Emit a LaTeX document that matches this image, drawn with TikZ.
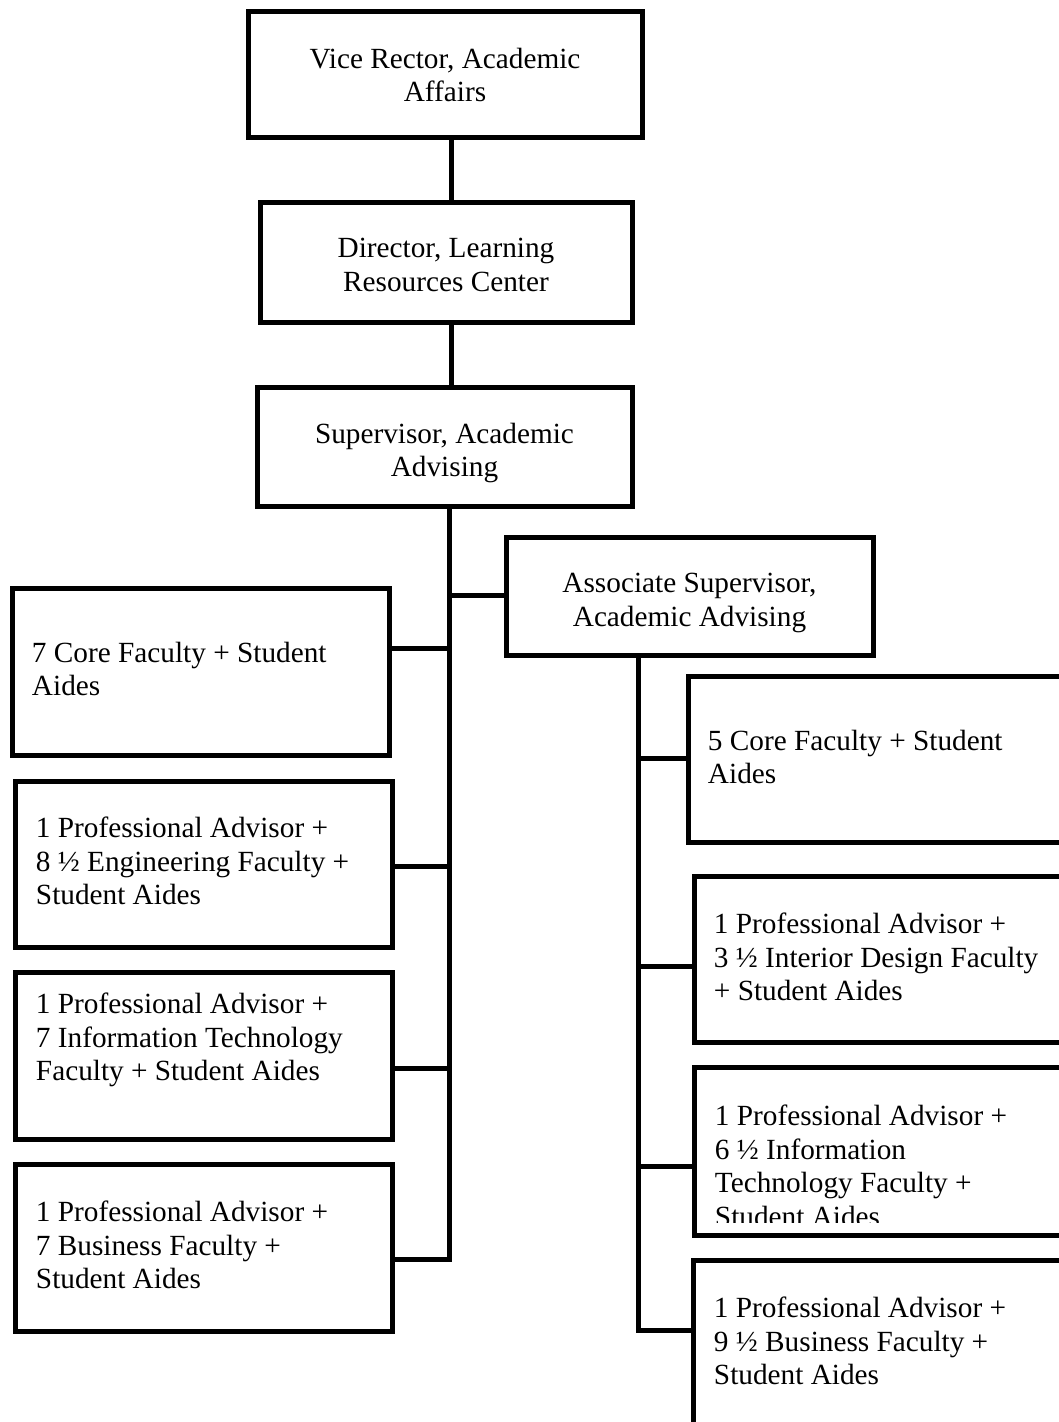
\documentclass[tikz,border=0pt]{standalone}
\usepackage{fontspec}
\setmainfont{Liberation Serif}
\usetikzlibrary{fit,calc}
\tikzset{
  unitbox/.style={draw, line width=2.05pt, inner sep=0pt},
  headtext/.style={anchor=north, inner sep=0pt, align=center},
  unittext/.style={anchor=north west, inner sep=0pt, align=left},
  link/.style={line width=2.05pt, line cap=rect}
}

\begin{document}
\begin{tikzpicture}[x=0.41pt, y=-0.41pt, font=\fontsize{12}{13.8}\selectfont]
  \useasboundingbox (0,0) rectangle (1059,1422);
  \clip (0,0) rectangle (1059,1422);

  % chain at the top
  \node[unitbox, fit={(248,11) (642,137)}] (vr) {};
  \node[unitbox, fit={(260,202) (632,322)}] (dir) {};
  \node[unitbox, fit={(257,387) (632,506)}] (sup) {};
  \node[unitbox, fit={(506,537) (873,655)}] (asup) {};
  \node[headtext] (vrtxt) at ([yshift={-39*0.41pt}]vr.north) {Vice Rector, Academic\\Affairs};
  \node[headtext] (dirtxt) at ([yshift={-38*0.41pt}]dir.north) {Director, Learning\\Resources Center};
  \node[headtext] (suptxt) at ([yshift={-38*0.41pt}]sup.north) {Supervisor, Academic\\Advising};
  \node[headtext] (asuptxt) at ([yshift={-38*0.41pt}]asup.north) {Associate Supervisor,\\Academic Advising};

  % units under the supervisor
  \node[unitbox, fit={(12,588) (389,755)}] (core7) {};
  \node[unitbox, fit={(15,781) (392,947)}] (eng) {};
  \node[unitbox, fit={(15,972) (392,1139)}] (it7) {};
  \node[unitbox, fit={(15,1164) (392,1331)}] (biz7) {};
  \node[unittext] (core7txt) at ([shift={(22,56)}]core7.north west) {7 Core Faculty + Student\\Aides};
  \node[unittext] (engtxt) at ([shift={(23,38)}]eng.north west) {1 Professional Advisor +\\8 ½ Engineering Faculty +\\Student Aides};
  \node[unittext] (it7txt) at ([shift={(23,23)}]it7.north west) {1 Professional Advisor +\\7 Information Technology\\Faculty + Student Aides};
  \node[unittext] (biz7txt) at ([shift={(23,39)}]biz7.north west) {1 Professional Advisor +\\7 Business Faculty +\\Student Aides};

  % units under the associate supervisor
  \node[unitbox, fit={(688,676) (1100,842)}] (core5) {};
  \node[unitbox, fit={(694,876) (1100,1042)}] (interior) {};
  \node[unitbox, fit={(694,1067) (1100,1235)}] (itr) {};
  \node[unitbox, fit={(693,1260) (1100,1480)}] (bizr) {};
  \node[unittext] (core5txt) at ([shift={(22,56)}]core5.north west) {5 Core Faculty + Student\\Aides};
  \node[unittext] (interiortxt) at ([shift={(22,39)}]interior.north west) {1 Professional Advisor +\\3 ½ Interior Design Faculty\\+ Student Aides};
  \begin{scope}
    \clip (itr.north west) rectangle (1059,1222);
    \node[unittext] (itrtxt) at ([shift={(23,40)}]itr.north west) {1 Professional Advisor +\\6 ½ Information\\Technology Faculty +\\Student Aides};
  \end{scope}
  \node[unittext] (bizrtxt) at ([shift={(23,39)}]bizr.north west) {1 Professional Advisor +\\9 ½ Business Faculty +\\Student Aides};

  % connectors
  \coordinate (stem) at (451,0);
  \draw[link] (vr.south -| stem) -- (dir.north -| stem);
  \draw[link] (dir.south -| stem) -- (sup.north -| stem);

  \coordinate (jA) at (449,595);
  \coordinate (j1) at (449,648);
  \coordinate (j2) at (449,866);
  \coordinate (j3) at (449,1068);
  \coordinate (j4) at (449,1259);
  \draw[link] (sup.south -| j4) -- (j4) -- (biz7.east |- j4);
  \draw[link] (jA) -- (asup.west |- jA);
  \foreach \unit/\tap in {core7/j1, eng/j2, it7/j3}
    \draw[link] (\unit.east |- \tap) -- (\tap);

  \coordinate (k1) at (638,758);
  \coordinate (k2) at (638,966);
  \coordinate (k3) at (638,1166);
  \coordinate (k4) at (638,1330);
  \draw[link] (asup.south -| k4) -- (k4) -- (bizr.west |- k4);
  \foreach \unit/\tap in {core5/k1, interior/k2, itr/k3}
    \draw[link] (\tap) -- (\unit.west |- \tap);
\end{tikzpicture}
\end{document}
